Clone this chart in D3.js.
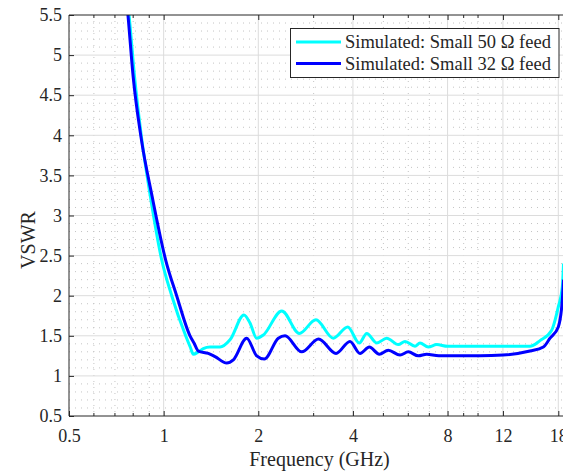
<!DOCTYPE html>
<html>
<head>
  <title>VSWR vs Frequency</title>
  <script src="https://d3js.org/d3.v7.min.js"></script>
  <style>
    body { margin: 0; background: #fff; }
    text { font-family: "Liberation Serif", "Times New Roman", serif; fill: #262626; }
    .tick text { font-size: 18px; }
    .axis path { display: none; }
    .axis line { stroke: #262626; }
  </style>
</head>
<body>
  <svg id="chart" width="563" height="472"></svg>

  <script>
    // Tick values
    const xMajorTicks = [0.5, 1, 2, 4, 8, 12, 18];
    const xMinorTicks = [0.6, 0.7, 0.8, 0.9, 3, 5, 6, 7, 9, 10];
    const yMajorTicks = [0.5, 1, 1.5, 2, 2.5, 3, 3.5, 4, 4.5, 5, 5.5];
    const yMinorTicks = d3.range(6, 55).map(d => d / 10).filter(d => Math.round(d * 10) % 5 !== 0);

    // Series: [frequency (GHz), VSWR]
    const seriesNames = ["Simulated: Small 50 \u03A9 feed", "Simulated: Small 32 \u03A9 feed"];
    const seriesColors = ["#00ffff", "#0000ff"];

    const feed50 = [
      [0.77, 5.62], [0.776, 5.5], [0.808, 4.73], [0.85, 3.98], [0.908, 3.23], [0.986, 2.445],
      [1.061, 2.0], [1.175, 1.5], [1.215, 1.36], [1.243, 1.27], [1.29, 1.30],
      [1.337, 1.34], [1.404, 1.36], [1.511, 1.36], [1.626, 1.45], [1.801, 1.76], [1.882, 1.66],
      [1.977, 1.47], [2.075, 1.51], [2.375, 1.81], [2.701, 1.53], [3.05, 1.70], [3.465, 1.47],
      [3.85, 1.61], [4.19, 1.41], [4.425, 1.53], [4.761, 1.41], [5.123, 1.47], [5.577, 1.39],
      [5.858, 1.43], [6.302, 1.37], [6.537, 1.41], [6.946, 1.36], [7.389, 1.39], [8.0, 1.37],
      [9.0, 1.37], [10.15, 1.37], [12.0, 1.37], [14.63, 1.37], [15.74, 1.44], [17.15, 1.57],
      [18.0, 1.86], [18.54, 2.11], [18.7, 2.4]
    ];

    const feed32 = [
      [0.765, 5.62], [0.77, 5.5], [0.80, 4.73], [0.847, 3.98], [0.92, 3.23], [1.015, 2.445],
      [1.10, 2.0], [1.213, 1.5], [1.249, 1.41], [1.289, 1.31], [1.387, 1.28],
      [1.457, 1.24], [1.587, 1.16], [1.666, 1.20], [1.837, 1.47], [1.977, 1.25], [2.09, 1.21],
      [2.316, 1.47], [2.433, 1.50], [2.749, 1.30], [3.11, 1.46], [3.534, 1.28], [3.915, 1.43],
      [4.213, 1.28], [4.51, 1.36], [4.853, 1.27], [5.18, 1.32], [5.647, 1.26], [6.0, 1.30],
      [6.456, 1.25], [6.866, 1.27], [7.5, 1.25], [10.15, 1.25], [12.0, 1.26], [14.63, 1.31],
      [16.13, 1.36], [16.94, 1.47], [18.0, 1.61], [18.54, 1.95], [18.7, 2.2]
    ];

    const svg = d3.select("#chart");
    const width = +svg.attr("width");

    // Plot box (right edge is cropped by the picture)
    const plotLeft = 69, plotTop = 15, plotBottom = 416;

    const x = d3.scaleLog().domain([0.5, 18]).range([plotLeft, 558.3]);
    const y = d3.scaleLinear().domain([0.5, 5.5]).range([plotBottom, plotTop]);

    // Clip the curves to the plot area
    svg.append("clipPath").attr("id", "plot-clip")
      .append("rect").attr("x", plotLeft).attr("y", plotTop)
      .attr("width", width - plotLeft).attr("height", plotBottom - plotTop);

    // Minor grid (dotted)
    const grid = svg.append("g");
    grid.selectAll(".ygrid-minor").data(yMinorTicks).enter().append("line")
      .attr("x1", plotLeft).attr("x2", width)
      .attr("y1", d => y(d)).attr("y2", d => y(d))
      .attr("stroke", "#c4c4c4").attr("stroke-width", 1)
      .attr("stroke-dasharray", "1,5");
    grid.selectAll(".xgrid-minor").data(xMinorTicks).enter().append("line")
      .attr("x1", d => x(d)).attr("x2", d => x(d))
      .attr("y1", plotTop).attr("y2", plotBottom)
      .attr("stroke", "#c4c4c4").attr("stroke-width", 1)
      .attr("stroke-dasharray", "1,5");

    // Major grid
    grid.selectAll(".ygrid").data(yMajorTicks.slice(1, -1)).enter().append("line")
      .attr("x1", plotLeft).attr("x2", width)
      .attr("y1", d => y(d)).attr("y2", d => y(d))
      .attr("stroke", "#dcdcdc").attr("stroke-width", 1);
    grid.selectAll(".xgrid").data(xMajorTicks.slice(1)).enter().append("line")
      .attr("x1", d => x(d)).attr("x2", d => x(d))
      .attr("y1", plotTop).attr("y2", plotBottom)
      .attr("stroke", "#dcdcdc").attr("stroke-width", 1);

    // Curves
    const line = d3.line()
      .x(d => x(d[0]))
      .y(d => y(d[1]))
      .curve(d3.curveMonotoneX);

    const plot = svg.append("g").attr("clip-path", "url(#plot-clip)");
    [feed50, feed32].forEach((data, i) => {
      plot.append("path")
        .datum(data)
        .attr("fill", "none")
        .attr("stroke", seriesColors[i])
        .attr("stroke-width", 3)
        .attr("stroke-linejoin", "round")
        .attr("d", line);
    });

    // Axes with inward ticks
    svg.append("g").attr("class", "axis")
      .attr("transform", `translate(0,${plotBottom})`)
      .call(d3.axisBottom(x).tickValues(xMajorTicks).tickFormat(d => d)
        .tickSize(-5).tickPadding(13));
    svg.append("g").attr("class", "axis")
      .attr("transform", `translate(0,${plotTop})`)
      .call(d3.axisTop(x).tickValues(xMajorTicks.slice(1)).tickFormat("")
        .tickSize(-5));
    svg.append("g").attr("class", "axis")
      .attr("transform", `translate(${plotLeft},0)`)
      .call(d3.axisLeft(y).tickValues(yMajorTicks).tickFormat(d => d)
        .tickSize(-5).tickPadding(7));

    // Minor x ticks, top and bottom
    [plotBottom, plotTop].forEach(yy => {
      const dir = yy === plotBottom ? -3 : 3;
      svg.append("g").selectAll("line").data(xMinorTicks).enter().append("line")
        .attr("x1", d => x(d)).attr("x2", d => x(d))
        .attr("y1", yy).attr("y2", yy + dir)
        .attr("stroke", "#262626");
    });

    // Box lines
    svg.append("line").attr("x1", plotLeft).attr("x2", width).attr("y1", plotBottom).attr("y2", plotBottom)
      .attr("stroke", "#262626");
    svg.append("line").attr("x1", plotLeft).attr("x2", width).attr("y1", plotTop).attr("y2", plotTop)
      .attr("stroke", "#262626");
    svg.append("line").attr("x1", plotLeft).attr("x2", plotLeft).attr("y1", plotTop).attr("y2", plotBottom)
      .attr("stroke", "#262626");

    // Axis titles
    svg.append("text")
      .attr("x", 319.5).attr("y", 465.5)
      .attr("text-anchor", "middle")
      .style("font-size", "20px")
      .text("Frequency (GHz)");
    svg.append("text")
      .attr("transform", "translate(35,240) rotate(-90)")
      .attr("text-anchor", "middle")
      .style("font-size", "20px")
      .text("VSWR");

    // Legend
    const legend = svg.append("g");
    legend.append("rect")
      .attr("x", 290.5).attr("y", 28.5).attr("width", 268.5).attr("height", 49)
      .attr("fill", "#fff").attr("stroke", "#262626");
    seriesNames.forEach((name, i) => {
      const ly = 42 + i * 21.5;
      legend.append("line")
        .attr("x1", 296).attr("x2", 341).attr("y1", ly).attr("y2", ly)
        .attr("stroke", seriesColors[i]).attr("stroke-width", 3);
      legend.append("text")
        .attr("x", 345).attr("y", ly + 6.3)
        .style("font-size", "18.5px")
        .text(name);
    });
  </script>
</body>
</html>
